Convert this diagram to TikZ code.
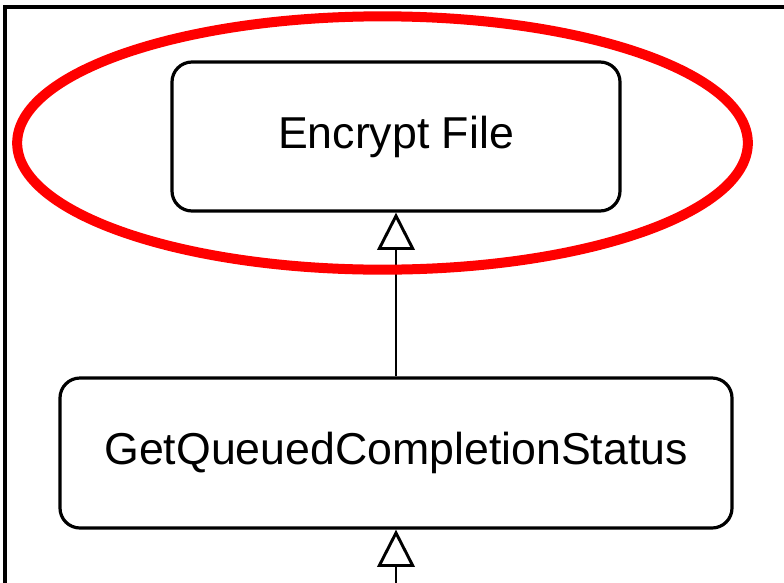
\documentclass[tikz,border=0pt]{standalone}
\usepackage{fontspec}
\setmainfont{Liberation Sans}
\usetikzlibrary{arrows.meta,positioning}
\begin{document}
\begin{tikzpicture}[x=0.75pt,y=-0.75pt,
    funcbox/.style={draw,line width=2.4pt,rounded corners=15pt,align=center,
      inner sep=0pt,font=\fontsize{33.5}{40}\selectfont},
    callarrow/.style={line width=2.2pt,-{Triangle[open,length=28pt,width=28pt,line width=2.2pt]}}]
    \clip (0,0) rectangle (784,582);
    \fill[white] (0,0) rectangle (784,582);
    % frame
    \draw[line width=2.4pt] (5,600) -- (5,7) -- (800,7);
    \node[funcbox,minimum width=336pt,minimum height=111.75pt] (enc) at (396,136.5) {Encrypt File};
    \node[funcbox,minimum width=504pt,minimum height=112.5pt] (gq) at (396,453) {GetQueuedCompletionStatus};
    \coordinate (below) at (396,600);
    \draw[callarrow] (gq) -- (enc);
    \draw[callarrow] (below) -- (gq);
    % highlight
    \draw[red,line width=7.5pt] (382.5,143) ellipse [x radius=274pt,y radius=95pt];
\end{tikzpicture}
\end{document}
